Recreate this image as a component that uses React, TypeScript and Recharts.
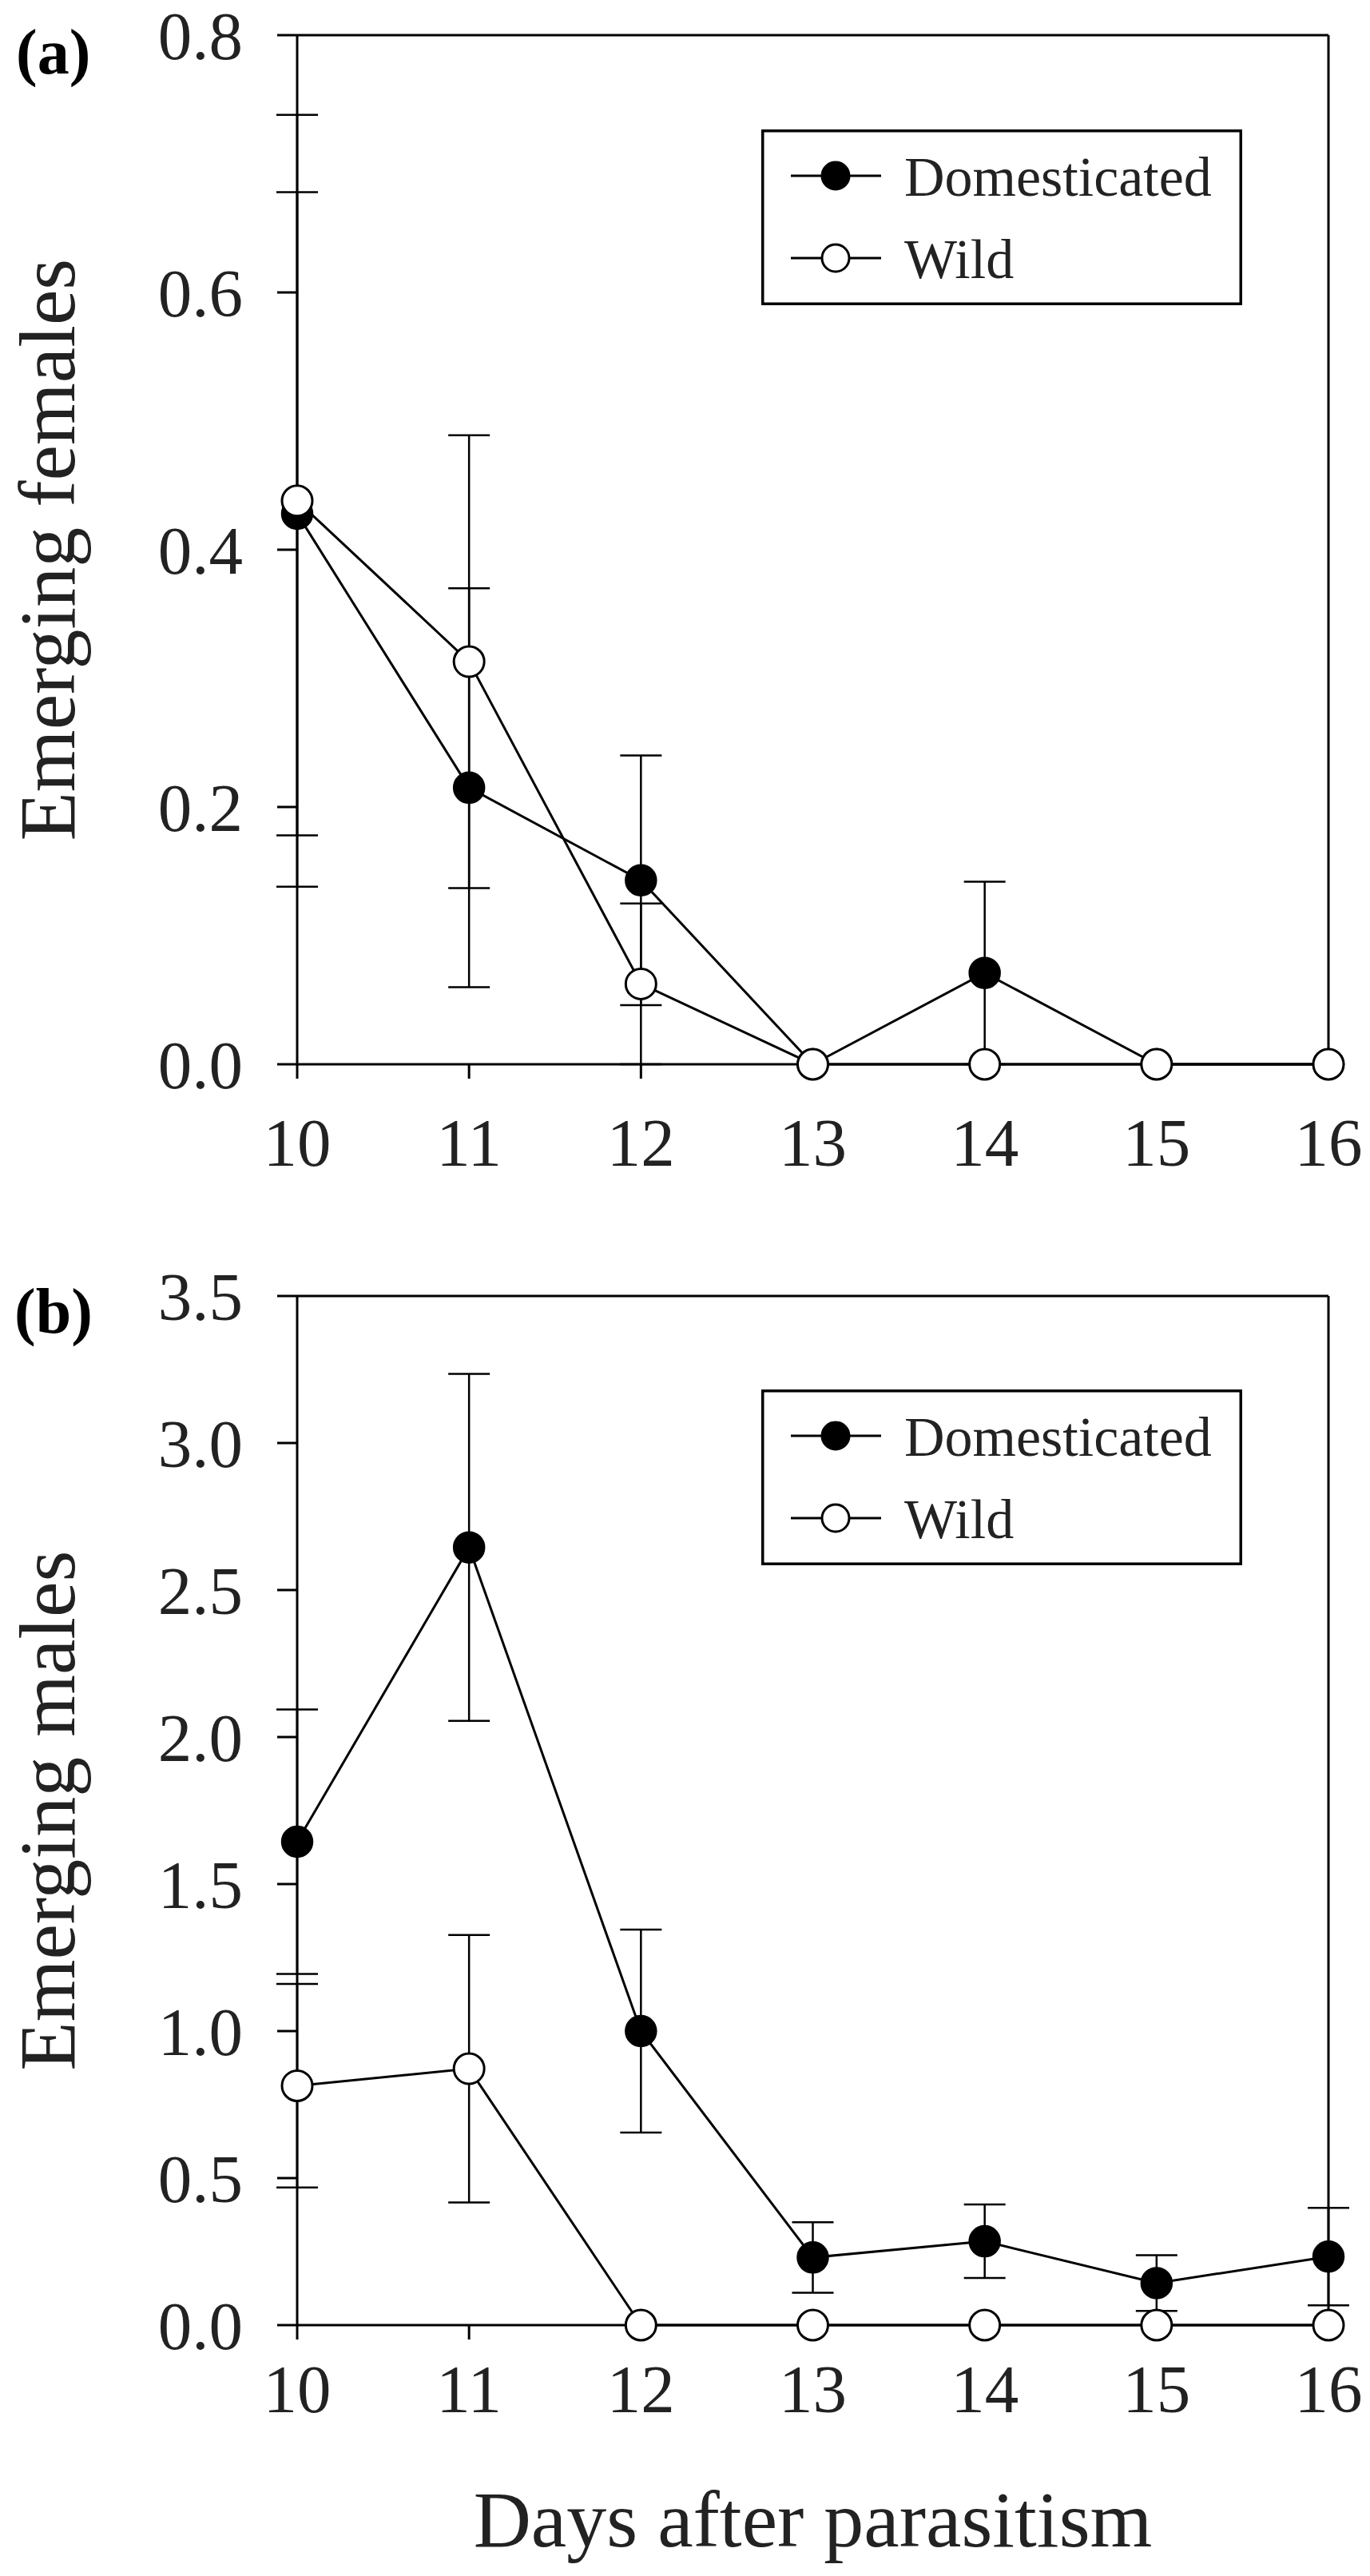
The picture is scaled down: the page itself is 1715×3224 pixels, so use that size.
import * as React from 'react'
import { ErrorBar, Legend, Line, LineChart, ReferenceLine, XAxis, YAxis } from 'recharts'

// days after parasitism
const days = [10, 11, 12, 13, 14, 15, 16]

// (a) emerging females, mean and SE
const femalesDomesticated = [0.428, 0.215, 0.143, 0, 0.071, 0, 0]
const femalesDomesticatedSE = [0.25, 0.155, 0.097, 0, 0.071, 0, 0]
const femalesWild = [0.438, 0.313, 0.0625, 0, 0, 0, 0]
const femalesWildSE = [0.3, 0.176, 0.0625, 0, 0, 0, 0]

// (b) emerging males, mean and SE
const malesDomesticated = [1.644, 2.645, 1.0, 0.23, 0.285, 0.143, 0.233]
const malesDomesticatedSE = [0.45, 0.59, 0.345, 0.12, 0.125, 0.095, 0.166]
const malesWild = [0.814, 0.872, 0, 0, 0, 0, 0]
const malesWildSE = [0.346, 0.455, 0, 0, 0, 0, 0]

const femaleTicks = [0, 0.2, 0.4, 0.6, 0.8]
const maleTicks = [0, 0.5, 1, 1.5, 2, 2.5, 3, 3.5]

const FONT = '"Liberation Serif", "Times New Roman", serif'
const INK = '#222'

const seriesStyle: Record<string, { fill: string }> = {
    Domesticated: { fill: '#000' },
    Wild: { fill: '#fff' },
}

function buildRows(dom: number[], domErr: number[], wild: number[], wildErr: number[]) {
    return days.map((day, i) => ({
        day,
        dom: dom[i],
        domErr: domErr[i],
        wild: wild[i],
        wildErr: wildErr[i],
    }))
}

const femaleRows = buildRows(femalesDomesticated, femalesDomesticatedSE, femalesWild, femalesWildSE)
const maleRows = buildRows(malesDomesticated, malesDomesticatedSE, malesWild, malesWildSE)

const renderLegend = (props: any) => {
    const items = props.payload || []
    return (
        <svg width={602} height={220} style={{ display: 'block' }}>
            <rect x={1.75} y={1.75} width={598.5} height={216.5} fill="#fff" stroke="#000" strokeWidth={3.5} />
            {items.map((item: any, i: number) => {
                const cy = 58 + i * 103
                const style = seriesStyle[item.value] || { fill: '#000' }
                return (
                    <g key={item.value}>
                        <line x1={37} x2={150} y1={cy} y2={cy} stroke="#000" strokeWidth={3} />
                        <circle cx={93} cy={cy} r={17} fill={style.fill} stroke="#000" strokeWidth={3} />
                        <text x={179} y={cy + 25} fontSize={70} fontFamily={FONT} fill={INK}>
                            {item.value}
                        </text>
                    </g>
                )
            })}
        </svg>
    )
}

const yTitle = (text: string) => (props: any) => {
    const vb = props.viewBox || { x: 0, y: 0, height: 0 }
    const cy = vb.y + vb.height / 2
    return (
        <text
            transform={`translate(${vb.x + 93}, ${cy}) rotate(-90)`}
            textAnchor="middle"
            fontSize={100}
            fontFamily={FONT}
            fill={INK}
        >
            {text}
        </text>
    )
}

const xTitle = (text: string) => (props: any) => {
    const vb = props.viewBox || { x: 0, y: 0, width: 0 }
    return (
        <text
            x={vb.x + vb.width / 2}
            y={vb.y + 277}
            textAnchor="middle"
            fontSize={100}
            fontFamily={FONT}
            fill={INK}
        >
            {text}
        </text>
    )
}

interface PanelProps {
    rows: ReturnType<typeof buildRows>
    yTicks: number[]
    yLabel: string
    height: number
    marginTop: number
    marginBottom: number
    xTickMargin: number
    legendTop: number
    xLabel?: string
}

function Panel({ rows, yTicks, yLabel, height, marginTop, marginBottom, xTickMargin, legendTop, xLabel }: PanelProps) {
    const yMax = yTicks[yTicks.length - 1]
    const plotHeight = 1288
    const xAxisHeight = height - marginTop - marginBottom - plotHeight
    const axisStyle = { stroke: '#000', strokeWidth: 3 }
    const tickStyle = { fontSize: 85, fill: INK, fontFamily: FONT }

    return (
        <LineChart
            width={1715}
            height={height}
            data={rows}
            margin={{ top: marginTop, right: 52, bottom: marginBottom, left: 0 }}
        >
            <XAxis
                dataKey="day"
                type="number"
                domain={[10, 16]}
                ticks={days}
                interval={0}
                height={xAxisHeight}
                tickSize={18}
                tickMargin={xTickMargin}
                axisLine={axisStyle}
                tickLine={axisStyle}
                tick={tickStyle}
                label={xLabel ? xTitle(xLabel) : undefined}
            />
            <YAxis
                type="number"
                domain={[0, yMax]}
                ticks={yTicks}
                interval={0}
                width={372}
                tickSize={25}
                tickMargin={43}
                axisLine={axisStyle}
                tickLine={axisStyle}
                tick={tickStyle}
                tickFormatter={(v: number) => v.toFixed(1)}
                label={yTitle(yLabel)}
            />
            <ReferenceLine y={yMax} stroke="#000" strokeWidth={3} />
            <ReferenceLine x={16} stroke="#000" strokeWidth={3} />
            <Legend
                layout="horizontal"
                verticalAlign="middle"
                align="center"
                content={renderLegend}
                wrapperStyle={{ left: 953, top: legendTop, width: 602, height: 220 }}
            />
            <Line
                name="Domesticated"
                dataKey="dom"
                type="linear"
                stroke="#000"
                strokeWidth={3}
                dot={{ r: 19, fill: '#000', stroke: '#000', strokeWidth: 2.5 }}
                activeDot={false}
                isAnimationActive={false}
            >
                <ErrorBar dataKey="domErr" direction="y" width={26} stroke="#000" strokeWidth={2.5} />
            </Line>
            <Line
                name="Wild"
                dataKey="wild"
                type="linear"
                stroke="#000"
                strokeWidth={3}
                dot={{ r: 19, fill: '#fff', stroke: '#000', strokeWidth: 3 }}
                activeDot={false}
                isAnimationActive={false}
            >
                <ErrorBar dataKey="wildErr" direction="y" width={26} stroke="#000" strokeWidth={2.5} />
            </Line>
        </LineChart>
    )
}

export default function App() {
    return (
        <div style={{ position: 'absolute', left: 0, top: 0, width: 1715, height: 3224, background: '#fff' }}>
            <div style={{ position: 'absolute', left: 0, top: 0 }}>
                <Panel
                    rows={femaleRows}
                    yTicks={femaleTicks}
                    yLabel="Emerging females"
                    height={1480}
                    marginTop={44}
                    marginBottom={8}
                    xTickMargin={49}
                    legendTop={162}
                />
            </div>
            <div style={{ position: 'absolute', left: 0, top: 1480 }}>
                <Panel
                    rows={maleRows}
                    yTicks={maleTicks}
                    yLabel="Emerging males"
                    height={1744}
                    marginTop={142}
                    marginBottom={14}
                    xTickMargin={31}
                    legendTop={259}
                    xLabel="Days after parasitism"
                />
            </div>
            <svg
                width={1715}
                height={3224}
                style={{ position: 'absolute', left: 0, top: 0, pointerEvents: 'none' }}
            >
                <text x={20} y={92} fontSize={80} fontWeight="bold" fontFamily={FONT} fill="#000">
                    (a)
                </text>
                <text x={18} y={1668} fontSize={80} fontWeight="bold" fontFamily={FONT} fill="#000">
                    (b)
                </text>
            </svg>
        </div>
    )
}
